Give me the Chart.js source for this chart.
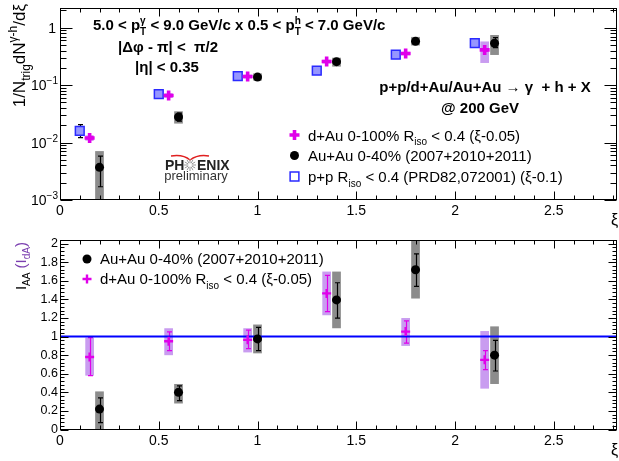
<!DOCTYPE html>
<html>
<head>
<meta charset="utf-8">
<script src="https://cdn.jsdelivr.net/npm/chart.js@4.4.1/dist/chart.umd.min.js"></script>
<style>
  html, body { margin: 0; padding: 0; background: #fff; }
  #wrap { position: relative; width: 619px; height: 461px; overflow: hidden; }
  .panel { position: absolute; left: 0; width: 619px; }
  #top { top: 0; height: 230px; }
  #bot { top: 230px; height: 231px; }
</style>
</head>
<body>
<div id="wrap">
  <div class="panel" id="top"><canvas id="yieldChart" width="619" height="230"></canvas></div>
  <div class="panel" id="bot"><canvas id="iaaChart" width="619" height="231"></canvas></div>
</div>
<script>
const FONT = '"Liberation Sans", Arial, sans-serif';

// xi axis, shared by both panels
const XI_MIN = 0;
const XI_MAX = 2.82;
const XI_TICKS = [0, 0.5, 1, 1.5, 2, 2.5];

// top panel: per-trigger yields (log axis)
const YIELD_MIN = 0.001;
const YIELD_MAX = 2.2;
const YIELD_TICKS = [0.001, 0.01, 0.1, 1];

const PP_XI = [0.1, 0.5, 0.9, 1.3, 1.7, 2.1];
const PP_YIELD = [0.0160, 0.0700, 0.143, 0.178, 0.338, 0.540];
const PP_STAT_LO = [0.0122, 0.0665, 0.137, 0.171, 0.326, 0.522];
const PP_STAT_HI = [0.0205, 0.0735, 0.149, 0.185, 0.350, 0.558];

const DAU_XI = [0.15, 0.55, 0.95, 1.35, 1.75, 2.15];
const DAU_YIELD = [0.0120, 0.0660, 0.141, 0.257, 0.355, 0.410];
const DAU_STAT_LO = [0.0112, 0.0630, 0.136, 0.248, 0.343, 0.390];
const DAU_STAT_HI = [0.0128, 0.0690, 0.146, 0.266, 0.367, 0.430];
const DAU_SYS_LO = [0.0108, 0.0600, 0.130, 0.238, 0.330, 0.243];
const DAU_SYS_HI = [0.0133, 0.0720, 0.152, 0.276, 0.380, 0.575];

const AUAU_XI = [0.2, 0.6, 1.0, 1.4, 1.8, 2.2];
const AUAU_YIELD = [0.0037, 0.0278, 0.138, 0.256, 0.578, 0.535];
const AUAU_STAT_LO = [0.0017, 0.0235, 0.132, 0.243, 0.550, 0.450];
const AUAU_STAT_HI = [0.0058, 0.0325, 0.144, 0.270, 0.610, 0.670];
const AUAU_SYS_LO = [0.0005, 0.0214, 0.120, 0.210, 0.490, 0.335];
const AUAU_SYS_HI = [0.0071, 0.0350, 0.160, 0.300, 0.690, 0.745];

// bottom panel: I_AA / I_dA (linear axis)
const IAA_MIN = 0;
const IAA_MAX = 2.04;
const IAA_TICKS = [0, 0.2, 0.4, 0.6, 0.8, 1, 1.2, 1.4, 1.6, 1.8, 2];
const UNITY_XI = [0, 2.82];
const UNITY = [1, 1];

const AUAU_IAA = [0.22, 0.40, 0.975, 1.395, 1.72, 0.80];
const AUAU_IAA_STAT_LO = [0.075, 0.31, 0.85, 1.20, 1.54, 0.63];
const AUAU_IAA_STAT_HI = [0.34, 0.47, 1.10, 1.58, 1.89, 0.96];
const AUAU_IAA_SYS_LO = [0.0, 0.28, 0.82, 1.09, 1.41, 0.49];
const AUAU_IAA_SYS_HI = [0.41, 0.49, 1.13, 1.70, 2.05, 1.11];

const DAU_IDA = [0.78, 0.95, 0.965, 1.465, 1.054, 0.75];
const DAU_IDA_STAT_LO = [0.58, 0.85, 0.87, 1.27, 0.93, 0.645];
const DAU_IDA_STAT_HI = [0.99, 1.05, 1.07, 1.66, 1.17, 0.85];
const DAU_IDA_SYS_LO = [0.58, 0.80, 0.83, 1.23, 0.90, 0.44];
const DAU_IDA_SYS_HI = [0.99, 1.09, 1.09, 1.70, 1.20, 1.06];

const MAGENTA = '#e000ea';
const PURPLE_BOX = '#c99cf0';
const GRAY_BOX = '#8c8c8c';
const BLUE = '#2a2aff';
const SYS_HALF = 0.022;

const toPoints = (xs, ys) => xs.map((x, i) => ({ x, y: ys[i] }));

// text with sub/superscripts, segments are strings or {t|sub|sup, color}
function richText(ctx, segs, x, y, size, opts = {}) {
  const w8 = opts.bold ? 'bold ' : '';
  const main = w8 + size + 'px ' + FONT;
  const small = w8 + Math.round(size * 0.68) + 'px ' + FONT;
  const color = opts.color || '#000';
  const parts = segs.map(s => {
    if (typeof s === 'string') s = { t: s };
    if (s.t !== undefined) {
      ctx.font = main;
      return { s, w: ctx.measureText(s.t).width };
    }
    ctx.font = small;
    const w = Math.max(s.sub ? ctx.measureText(s.sub).width : 0, s.sup ? ctx.measureText(s.sup).width : 0);
    return { s, w };
  });
  const total = parts.reduce((t, p) => t + p.w, 0);
  let cx = opts.align === 'center' ? x - total / 2 : opts.align === 'right' ? x - total : x;
  ctx.textAlign = 'left';
  ctx.textBaseline = 'alphabetic';
  parts.forEach(p => {
    ctx.fillStyle = p.s.color || color;
    if (p.s.t !== undefined) {
      ctx.font = main;
      ctx.fillText(p.s.t, cx, y);
    } else {
      ctx.font = small;
      if (p.s.sub) ctx.fillText(p.s.sub, cx, y + size * 0.3);
      if (p.s.sup) ctx.fillText(p.s.sup, cx, y - size * 0.42);
    }
    cx += p.w;
  });
}

function marker(ctx, style, radius, lw, stroke, fill, x, y) {
  ctx.save();
  ctx.lineWidth = lw;
  ctx.strokeStyle = stroke;
  ctx.fillStyle = fill;
  Chart.helpers.drawPoint(ctx, { pointStyle: style, radius, rotation: 0, borderWidth: lw }, x, y);
  ctx.restore();
}

// sys boxes and stat bars under the markers, frame/ticks/text on top
function makePanelPlugin(cfg) {
  return {
    id: 'panel',
    beforeDatasetsDraw(chart) {
      const { ctx, chartArea: a, scales: { x, y } } = chart;
      ctx.save();
      ctx.beginPath();
      ctx.rect(a.left, a.top, a.right - a.left, a.bottom - a.top);
      ctx.clip();
      chart.data.datasets.forEach(ds => {
        if (!ds.sysLo) return;
        ctx.fillStyle = ds.sysColor;
        ds.data.forEach((p, i) => {
          const x0 = x.getPixelForValue(p.x - SYS_HALF);
          const x1 = x.getPixelForValue(p.x + SYS_HALF);
          const y0 = y.getPixelForValue(ds.sysHi[i]);
          const y1 = y.getPixelForValue(ds.sysLo[i]);
          ctx.fillRect(x0, y0, x1 - x0, y1 - y0);
        });
      });
      chart.data.datasets.forEach(ds => {
        if (!ds.statLo) return;
        ctx.strokeStyle = ds.statColor;
        ctx.lineWidth = 1.2;
        ds.data.forEach((p, i) => {
          const px = Math.round(x.getPixelForValue(p.x)) + 0.5;
          const y0 = y.getPixelForValue(ds.statHi[i]);
          const y1 = y.getPixelForValue(ds.statLo[i]);
          ctx.beginPath();
          ctx.moveTo(px, y0); ctx.lineTo(px, y1);
          ctx.moveTo(px - 2.5, y0); ctx.lineTo(px + 2.5, y0);
          ctx.moveTo(px - 2.5, y1); ctx.lineTo(px + 2.5, y1);
          ctx.stroke();
        });
      });
      ctx.restore();
    },
    afterDraw(chart) {
      const { ctx, chartArea: a, scales: { x, y } } = chart;
      ctx.save();
      ctx.strokeStyle = '#000';
      ctx.lineWidth = 1;
      const L = Math.round(a.left) + 0.5, R = Math.round(a.right) - 0.5;
      const T = Math.round(a.top) + 0.5, B = Math.round(a.bottom) - 0.5;
      ctx.strokeRect(L, T, R - L, B - T);
      ctx.beginPath();
      for (let k = 0; k <= 28; k++) {
        const px = Math.round(x.getPixelForValue(k / 10)) + 0.5;
        const len = k % 5 === 0 ? 8 : 4;
        ctx.moveTo(px, B); ctx.lineTo(px, B - len);
        ctx.moveTo(px, T); ctx.lineTo(px, T + len);
      }
      cfg.yTicks().forEach(([v, major]) => {
        const py = Math.round(y.getPixelForValue(v)) + 0.5;
        const len = major ? cfg.yMajor : cfg.yMajor / 2;
        ctx.moveTo(L, py); ctx.lineTo(L + len, py);
        ctx.moveTo(R, py); ctx.lineTo(R - len, py);
      });
      ctx.stroke();
      // xi axis title at the right end
      richText(ctx, ['ξ'], 611, 225, 16);
      cfg.decorate(ctx, chart);
      ctx.restore();
    }
  };
}

function xScale(height) {
  return {
    type: 'linear', min: XI_MIN, max: XI_MAX,
    afterBuildTicks: s => { s.ticks = XI_TICKS.map(v => ({ value: v })); },
    afterFit: s => { s.height = height; s.paddingLeft = 0; s.paddingRight = 0; },
    grid: { display: false, drawTicks: false },
    border: { display: false },
    ticks: { color: '#000', padding: 3, maxRotation: 0, autoSkip: false, font: { family: FONT, size: 14 }, callback: v => String(v) }
  };
}

const commonPlugins = { legend: { display: false }, tooltip: { enabled: false } };

// ---------- top panel ----------
const topPanel = makePanelPlugin({
  yMajor: 12,
  yTicks: () => {
    const t = [];
    for (let d = -3; d <= 0; d++) for (let m = 1; m <= 9; m++) {
      const v = m * Math.pow(10, d);
      if (v >= YIELD_MIN && v <= YIELD_MAX) t.push([v, m === 1]);
    }
    return t;
  },
  decorate(ctx, chart) {
    const y = chart.scales.y;
    // log tick labels
    YIELD_TICKS.forEach(v => {
      const py = y.getPixelForValue(v);
      if (v === 1) richText(ctx, ['1'], 56, py + 5, 14, { align: 'right' });
      else richText(ctx, ['10', { sup: String(Math.round(Math.log10(v))).replace('-', '\u2212') }], 58, py + 5, 14, { align: 'right' });
    });
    // y title
    ctx.save();
    ctx.translate(24.5, 4);
    ctx.rotate(-Math.PI / 2);
    richText(ctx, ['1/N', { sub: 'trig' }, 'dN', { sup: 'γ-h' }, '/dξ'], 0, 0, 17, { align: 'right' });
    ctx.restore();
    // cut labels
    richText(ctx, ['5.0 < p', { sub: 'T', sup: 'γ' }, ' < 9.0 GeV/c x 0.5 < p', { sub: 'T', sup: 'h' }, ' < 7.0 GeV/c'], 93, 30, 15, { bold: true });
    richText(ctx, ['|Δφ - π| <  π/2'], 168, 52, 15, { bold: true, align: 'center' });
    richText(ctx, ['|η| < 0.35'], 167, 71.5, 15, { bold: true, align: 'center' });
    richText(ctx, ['p+p/d+Au/Au+Au \u2192 γ  + h + X'], 485, 91.5, 15, { bold: true, align: 'center' });
    richText(ctx, ['@ 200 GeV'], 480, 113, 15, { bold: true, align: 'center' });
    // legend
    marker(ctx, 'cross', 5, 3.6, MAGENTA, MAGENTA, 294.5, 135);
    richText(ctx, ['d+Au 0-100% R', { sub: 'iso' }, ' < 0.4 (ξ-0.05)'], 308, 140.5, 15);
    marker(ctx, 'circle', 4.5, 0, '#000', '#000', 294.5, 155.5);
    richText(ctx, ['Au+Au 0-40% (2007+2010+2011)'], 308, 161, 15);
    marker(ctx, 'rect', 6.2, 1.5, BLUE, '#fff', 294.5, 176.5);
    richText(ctx, ['p+p R', { sub: 'iso' }, ' < 0.4 (PRD82,072001) (ξ-0.1)'], 308, 182, 15);
    // PHENIX preliminary tag
    ctx.strokeStyle = '#e02020';
    ctx.lineWidth = 1.3;
    ctx.beginPath();
    ctx.moveTo(171, 156); ctx.quadraticCurveTo(183, 154, 190, 160);
    ctx.quadraticCurveTo(198, 154, 209, 156);
    ctx.stroke();
    richText(ctx, ['PH'], 165, 170, 14, { bold: true, color: '#222' });
    ctx.strokeStyle = '#9a9a9a';
    ctx.lineWidth = 1;
    ctx.beginPath();
    for (let k = 0; k < 12; k++) {
      const ang = k * Math.PI / 6;
      ctx.moveTo(190 + 2 * Math.cos(ang), 165 + 2 * Math.sin(ang));
      ctx.lineTo(190 + 6 * Math.cos(ang), 165 + 6 * Math.sin(ang));
    }
    ctx.stroke();
    richText(ctx, ['ENIX'], 197, 170, 14, { bold: true, color: '#222' });
    richText(ctx, ['preliminary'], 196, 179.5, 13, { align: 'center', color: '#333' });
  }
});

new Chart(document.getElementById('yieldChart'), {
  type: 'scatter',
  data: {
    datasets: [
      {
        label: 'd+Au', data: toPoints(DAU_XI, DAU_YIELD),
        pointStyle: 'cross', pointRadius: 5, pointBorderWidth: 3.6,
        pointBorderColor: MAGENTA, pointBackgroundColor: MAGENTA,
        statLo: DAU_STAT_LO, statHi: DAU_STAT_HI, statColor: MAGENTA,
        sysLo: DAU_SYS_LO, sysHi: DAU_SYS_HI, sysColor: PURPLE_BOX
      },
      {
        label: 'Au+Au', data: toPoints(AUAU_XI, AUAU_YIELD),
        pointStyle: 'circle', pointRadius: 4.5, pointBorderWidth: 0,
        pointBackgroundColor: '#000', pointBorderColor: '#000',
        statLo: AUAU_STAT_LO, statHi: AUAU_STAT_HI, statColor: '#000',
        sysLo: AUAU_SYS_LO, sysHi: AUAU_SYS_HI, sysColor: GRAY_BOX
      },
      {
        label: 'p+p', data: toPoints(PP_XI, PP_YIELD),
        pointStyle: 'rect', pointRadius: 6.2, pointBorderWidth: 1.5,
        pointBorderColor: BLUE, pointBackgroundColor: '#9696ff',
        statLo: PP_STAT_LO, statHi: PP_STAT_HI, statColor: '#000'
      }
    ]
  },
  options: {
    responsive: false, animation: false, events: [], devicePixelRatio: 1,
    layout: { autoPadding: false, padding: { top: 8, right: 2, left: 0, bottom: 0 } },
    scales: {
      x: xScale(30),
      y: {
        type: 'logarithmic', min: YIELD_MIN, max: YIELD_MAX,
        afterFit: s => { s.width = 60; },
        grid: { display: false }, border: { display: false },
        ticks: { display: false }
      }
    },
    plugins: commonPlugins
  },
  plugins: [topPanel]
});

// ---------- bottom panel ----------
const bottomPanel = makePanelPlugin({
  yMajor: 8,
  yTicks: () => {
    const t = [];
    for (let k = 0; k <= 51; k++) t.push([k * 0.04, k % 5 === 0]);
    return t.filter(([v]) => v <= IAA_MAX);
  },
  decorate(ctx) {
    // y title: I_AA (I_dA)
    ctx.save();
    ctx.translate(25.5, 12);
    ctx.rotate(-Math.PI / 2);
    const PUR = '#7b3fb0';
    richText(ctx, ['I', { sub: 'AA' }, ' ', { t: '(I', color: PUR }, { sub: 'dA', color: PUR }, { t: ')', color: PUR }], 0, 0, 15, { align: 'right' });
    ctx.restore();
    // legend
    marker(ctx, 'circle', 4.5, 0, '#000', '#000', 87, 29);
    richText(ctx, ['Au+Au 0-40% (2007+2010+2011)'], 100, 34, 15);
    marker(ctx, 'cross', 4.5, 2.4, MAGENTA, MAGENTA, 87, 49);
    richText(ctx, ['d+Au 0-100% R', { sub: 'iso' }, ' < 0.4 (ξ-0.05)'], 100, 54, 15);
  }
});

new Chart(document.getElementById('iaaChart'), {
  type: 'scatter',
  data: {
    datasets: [
      {
        label: 'Au+Au', data: toPoints(AUAU_XI, AUAU_IAA),
        pointStyle: 'circle', pointRadius: 4.5, pointBorderWidth: 0,
        pointBackgroundColor: '#000', pointBorderColor: '#000',
        statLo: AUAU_IAA_STAT_LO, statHi: AUAU_IAA_STAT_HI, statColor: '#000',
        sysLo: AUAU_IAA_SYS_LO, sysHi: AUAU_IAA_SYS_HI, sysColor: GRAY_BOX
      },
      {
        label: 'd+Au', data: toPoints(DAU_XI, DAU_IDA),
        pointStyle: 'cross', pointRadius: 4.5, pointBorderWidth: 2.4,
        pointBorderColor: MAGENTA, pointBackgroundColor: MAGENTA,
        statLo: DAU_IDA_STAT_LO, statHi: DAU_IDA_STAT_HI, statColor: MAGENTA,
        sysLo: DAU_IDA_SYS_LO, sysHi: DAU_IDA_SYS_HI, sysColor: PURPLE_BOX
      },
      {
        type: 'line', label: 'unity', data: toPoints(UNITY_XI, UNITY),
        borderColor: '#0000ff', borderWidth: 2, pointRadius: 0, showLine: true
      }
    ]
  },
  options: {
    responsive: false, animation: false, events: [], devicePixelRatio: 1,
    layout: { autoPadding: false, padding: { top: 10, right: 2, left: 0, bottom: 0 } },
    scales: {
      x: xScale(31.5),
      y: {
        type: 'linear', min: IAA_MIN, max: IAA_MAX,
        afterBuildTicks: s => { s.ticks = IAA_TICKS.map(v => ({ value: v })); },
        afterFit: s => { s.width = 60; },
        grid: { display: false, drawTicks: false }, border: { display: false },
        ticks: { color: '#000', padding: 2, autoSkip: false, font: { family: FONT, size: 12.5 }, callback: v => String(v) }
      }
    },
    plugins: commonPlugins
  },
  plugins: [bottomPanel]
});
</script>
</body>
</html>
